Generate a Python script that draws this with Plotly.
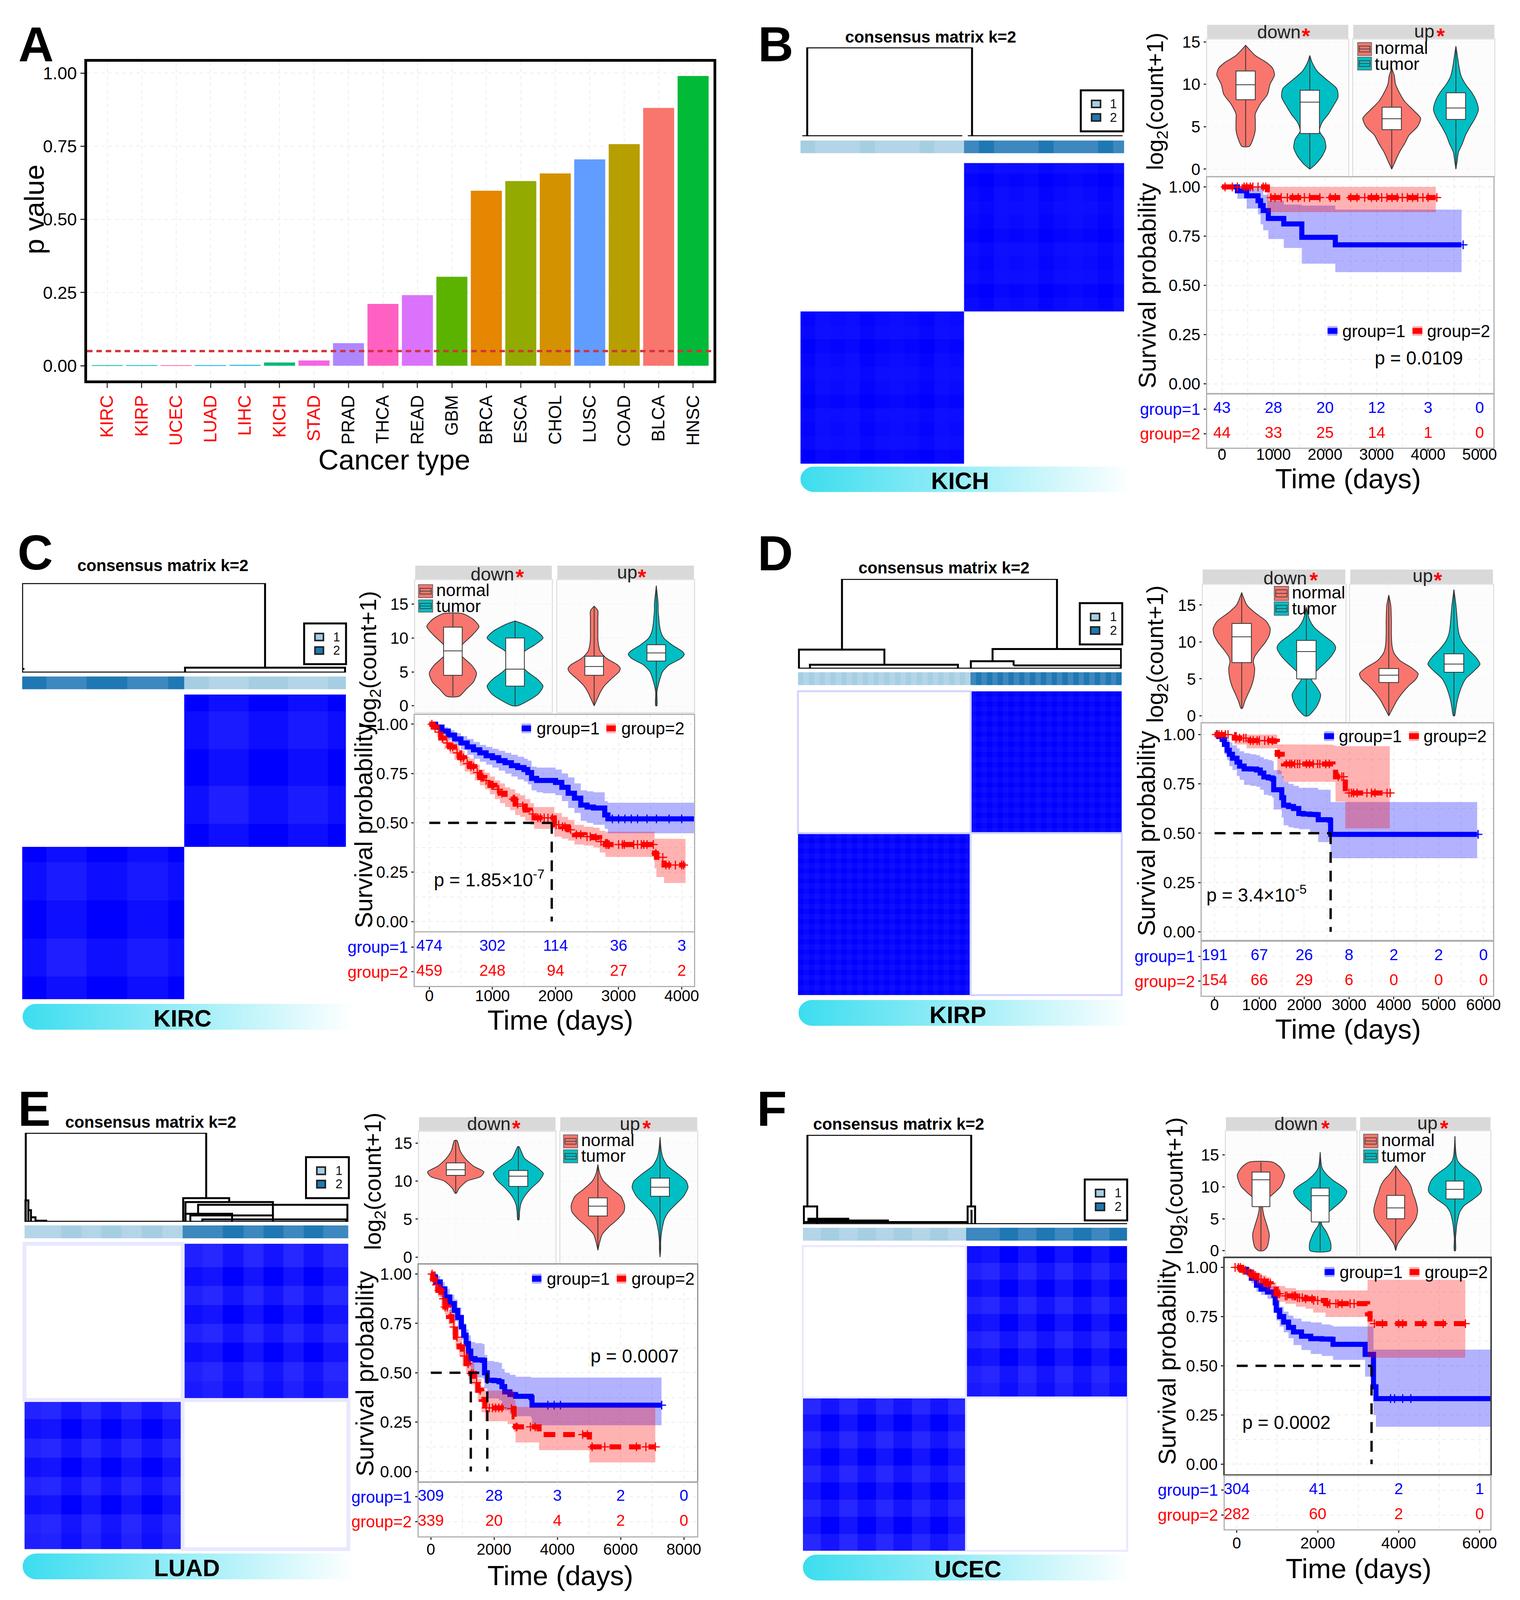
import base64
import plotly.graph_objects as go

W, H = 3892, 4394     # reference size: all geometry below is measured in it
PAGE_H = 4096         # the window really shows this many rows, so the page is fitted to them
FS = .95              # text follows the fitted height
FONT = "Liberation Sans"

# ---------------- panel A values ----------------
cancer_types = ["KIRC","KIRP","UCEC","LUAD","LIHC","KICH","STAD","PRAD","THCA","READ","GBM","BRCA","ESCA","CHOL","LUSC","COAD","BLCA","HNSC"]
p_values = [.0005,.0005,.0006,.002,.003,.011,.018,.077,.211,.241,.304,.598,.631,.657,.705,.757,.881,.990]
bar_colors = ["#00C19F","#00BFC4","#FF67A4","#00B0F6","#00B9E3","#00BA7A","#F564E3","#AE87FF","#FF61C3","#DB72FB","#5BB300","#E58700","#93AA00","#D39200","#619CFF","#B79F00","#F8766D","#00BA38"]
p_cutoff = 0.05

# ---------------- survival curves: days, survival, CI ----------------
kich_g1_t=[0,300,480,700,750,800,900,1200,1550,2200,4650]
kich_g1_s=[1,.98,.955,.93,.905,.88,.84,.812,.744,.706,.706]
kich_g1_hi=[1,1,1,1,1,.96,.93,.91,.905,.885,.885]
kich_g1_lo=[1,.94,.89,.86,.81,.78,.735,.69,.61,.567,.567]
kich_g2_t=[0,880,4150]
kich_g2_s=[1,.946,.946]
kich_g2_hi=[1,1,1]
kich_g2_lo=[1,.872,.872]
kich_g1_cens=[4680]
kich_g2_cens=[60,200,300,430,480,550,600,700,800,850,950,1030,1150,1270,1370,1480,1600,1700,1900,2100,2200,2500,2620,2770,2900,3000,3100,3200,3300,3400,3500,3600,3700,3800,3900,4000,4170]
kich_g1_risk=[43,28,20,12,3,0]
kich_g2_risk=[44,33,25,14,1,0]
kich_risk_t=[0,1000,2000,3000,4000,5000]
kich_median=[]

kirc_g1_t=[0,100,200,300,400,500,600,700,800,900,1000,1100,1200,1300,1400,1500,1560,1620,1700,1800,1900,2000,2100,2200,2300,2400,2500,2600,2700,2780,2830,4200]
kirc_g1_s=[1,.985,.965,.945,.925,.905,.885,.87,.855,.84,.83,.815,.805,.79,.78,.77,.755,.725,.715,.715,.715,.705,.68,.65,.625,.59,.58,.575,.575,.54,.52,.52]
kirc_g1_hi=[1,1,.985,.97,.955,.94,.925,.91,.895,.885,.875,.865,.855,.845,.835,.825,.815,.785,.78,.78,.78,.77,.75,.73,.70,.665,.66,.655,.655,.61,.602,.602]
kirc_g1_lo=[1,.97,.945,.92,.895,.87,.845,.825,.81,.795,.78,.765,.75,.735,.72,.71,.695,.665,.655,.65,.65,.64,.61,.575,.55,.51,.5,.49,.49,.47,.447,.447]
kirc_g2_t=[0,60,120,180,240,320,400,480,560,640,720,800,880,960,1040,1120,1200,1280,1360,1440,1520,1600,1660,1720,1900,1980,2100,2200,2300,2450,2600,2700,2790,3530,3570,3600,3720,4060]
kirc_g2_s=[1,.985,.96,.93,.905,.885,.855,.83,.8,.785,.755,.73,.715,.69,.67,.65,.63,.62,.595,.585,.565,.545,.525,.525,.525,.49,.48,.465,.44,.43,.425,.405,.39,.39,.345,.325,.286,.286]
kirc_g2_hi=[1,1,.985,.955,.935,.915,.89,.865,.835,.825,.795,.77,.755,.735,.715,.7,.68,.67,.65,.64,.62,.6,.58,.58,.58,.55,.53,.515,.49,.48,.475,.46,.455,.455,.42,.42,.419,.419]
kirc_g2_lo=[1,.97,.935,.905,.875,.85,.82,.79,.76,.745,.715,.69,.67,.645,.62,.6,.58,.565,.54,.53,.51,.49,.47,.47,.47,.43,.42,.41,.39,.385,.375,.35,.327,.327,.27,.225,.195,.195]
kirc_g1_cens=[2900,3000,3100,3200,3300,3450,3600,3800,4000]
kirc_g2_cens=[40,90,150,210,280,330,370,440,500,540,600,660,700,760,820,850,900,990,1010,1080,1100,1150,1330,1350,1400,1480,1640,1720,1760,1820,1880,1950,2010,2050,2110,2150,2240,2330,2400,2500,2550,2640,2720,2800,2830,2850,3000,3060,3090,3240,3300,3360,3400,3450,3550,3590,3700,3750,3800,3900,4000,4030]
kirc_g1_risk=[474,302,114,36,3]
kirc_g2_risk=[459,248,94,27,2]
kirc_risk_t=[0,1000,2000,3000,4000]
kirc_median=[1940]

kirp_g1_t=[0,100,170,220,280,330,400,500,560,660,800,936,1020,1100,1200,1288,1320,1465,1500,1542,1650,1762,1880,1982,2130,2257,2313,2566,2590,5860]
kirp_g1_s=[1,.99,.975,.95,.92,.9,.88,.86,.84,.826,.825,.82,.805,.785,.78,.775,.72,.72,.68,.642,.635,.625,.6,.597,.595,.594,.568,.565,.494,.494]
kirp_g1_hi=[1,1,1,.99,.975,.96,.945,.93,.915,.905,.9,.895,.885,.875,.87,.865,.82,.815,.79,.76,.75,.74,.73,.73,.73,.73,.72,.72,.658,.658]
kirp_g1_lo=[1,.97,.94,.9,.87,.84,.82,.79,.77,.745,.74,.735,.72,.695,.69,.68,.62,.62,.58,.54,.53,.525,.52,.52,.5,.5,.455,.455,.373,.373]
kirp_g2_t=[0,385,440,716,1320,1400,1510,1540,2643,2700,2896,2918,3910]
kirp_g2_s=[1,1,.982,.969,.966,.9,.887,.851,.848,.786,.777,.704,.704]
kirp_g2_hi=[1,1,1,1,1,.95,.95,.949,.945,.941,.941,.941,.941]
kirp_g2_lo=[1,1,.95,.93,.93,.8,.78,.76,.76,.66,.66,.524,.524]
kirp_g1_cens=[60,5880]
kirp_g2_cens=[40,100,160,240,300,480,560,650,700,800,860,950,1000,1120,1200,1290,1430,1450,1600,1680,1720,1790,1850,1900,2050,2120,2200,2300,2350,2480,2560,2760,2840,2880,3000,3050,3100,3180,3400,3500,3580,3850,3920]
kirp_g1_risk=[191,67,26,8,2,2,0]
kirp_g2_risk=[154,66,29,6,0,0,0]
kirp_risk_t=[0,1000,2000,3000,4000,5000,6000]
kirp_median=[2590]

luad_g1_t=[0,70,149,300,446,600,744,850,967,1040,1116,1190,1265,1400,1637,1700,1786,2000,2158,2250,2336,2500,2679,3170,3200,7292]
luad_g1_s=[1,.985,.96,.925,.884,.85,.816,.78,.732,.69,.648,.61,.572,.565,.563,.5,.462,.46,.454,.43,.403,.39,.381,.374,.336,.336]
luad_g1_hi=[1,1,.99,.96,.925,.895,.87,.83,.79,.75,.72,.69,.656,.65,.645,.59,.56,.555,.55,.52,.5,.49,.48,.476,.476,.476]
luad_g1_lo=[1,.97,.93,.885,.84,.8,.76,.72,.67,.63,.58,.53,.49,.475,.47,.42,.37,.37,.36,.33,.31,.29,.28,.27,.234,.234]
luad_g2_t=[0,60,120,223,330,446,560,670,780,893,1000,1116,1190,1265,1380,1488,1600,1711,2426,2634,2679,3348,3423,4985,5015,7098]
luad_g2_s=[1,.975,.945,.917,.875,.833,.785,.732,.68,.631,.585,.546,.52,.496,.45,.411,.365,.322,.319,.277,.226,.226,.187,.187,.125,.125]
luad_g2_hi=[1,.995,.97,.945,.905,.865,.82,.77,.72,.675,.63,.595,.57,.55,.5,.47,.43,.41,.41,.36,.327,.327,.327,.327,.327,.327]
luad_g2_lo=[1,.95,.92,.885,.84,.795,.745,.69,.635,.585,.535,.495,.465,.44,.4,.355,.3,.255,.24,.2,.147,.147,.108,.108,.046,.046]
luad_g1_cens=[3700,3900,4100,7300]
luad_g2_cens=[40,100,180,260,320,400,450,520,620,730,830,950,1060,1180,1280,1340,1450,1560,1750,1850,1950,2050,2150,2250,2550,2700,2720,3150,3300,4800,4950,5100,5500,6500,6800,7100]
luad_g1_risk=[309,28,3,2,0]
luad_g2_risk=[339,20,4,2,0]
luad_risk_t=[0,2000,4000,6000,8000]
luad_median=[1265,1786]

ucec_g1_t=[0,120,244,360,488,600,760,915,950,976,1060,1159,1280,1402,1600,1829,2100,2317,2378,3146,3171,3354,3378,3439,6268]
ucec_g1_s=[1,.99,.976,.945,.909,.89,.875,.858,.82,.782,.75,.722,.695,.672,.65,.638,.636,.635,.609,.609,.558,.558,.393,.333,.333]
ucec_g1_hi=[1,1,.995,.97,.94,.92,.905,.895,.86,.83,.8,.775,.755,.74,.725,.72,.71,.705,.7,.7,.7,.7,.582,.582,.582]
ucec_g1_lo=[1,.98,.955,.92,.875,.86,.84,.82,.77,.73,.7,.67,.64,.605,.58,.56,.55,.55,.53,.53,.445,.445,.25,.19,.19]
ucec_g2_t=[0,120,240,366,500,620,732,850,976,1200,1463,1700,1890,2195,2988,3232,3293,5646]
ucec_g2_s=[1,.985,.975,.959,.94,.93,.917,.89,.866,.855,.846,.84,.832,.816,.816,.765,.714,.714]
ucec_g2_hi=[1,1,.995,.98,.97,.96,.95,.925,.905,.895,.885,.885,.885,.883,.883,.937,.937,.937]
ucec_g2_lo=[1,.97,.955,.93,.91,.895,.88,.85,.825,.815,.8,.79,.77,.748,.748,.541,.541,.541]
ucec_g1_cens=[3800,3900,4100,4300]
ucec_g2_cens=[-40,40,90,160,220,300,380,450,520,600,680,760,830,1020,1060,1200,1240,1370,1420,1450,1500,1550,1620,1700,1860,1900,2000,2240,2300,2450,2500,2600,2800,2900,3400,3600,4000,4100,4600,5100,5650]
ucec_g1_risk=[304,41,2,1]
ucec_g2_risk=[282,60,2,0]
ucec_risk_t=[0,2000,4000,6000]
ucec_median=[3330]

# ---------------- violin outlines (log2 level, half width) and box stats (q1, median, q3) ----------------
kich_dn_y=[2.7,3.9,4.6,5.8,6.5,7.7,8.8,10,11.1,11.9,12.6,13.4,14.6]
kich_dn_w=[.06,.13,.15,.15,.15,.23,.34,.38,.45,.42,.32,.15,0]
kich_dn_box=[8.18,9.94,11.57]
kich_dt_y=[0,.5,1.5,2.5,3.5,4.5,5.5,6.5,7.5,8.5,9.5,10.5,11.5,12.5,13.4]
kich_dt_w=[0,.08,.19,.25,.23,.15,.19,.29,.37,.44,.42,.27,.12,.04,0]
kich_dt_box=[4.2,7.9,9.3]
kich_un_y=[0,1,2,3,4,5,6,7,8,9,10,11,11.9]
kich_un_w=[0,.06,.12,.2,.27,.4,.45,.33,.2,.12,.06,.04,0]
kich_un_box=[4.65,5.94,7.3]
kich_ut_y=[0,1,2,3,4,5,6,7,8,9,10,11,12,13,14.5]
kich_ut_w=[0,.02,.04,.1,.15,.22,.3,.35,.32,.25,.15,.08,.05,.03,0]
kich_ut_box=[5.86,7.2,9.0]

kirc_dn_y=[1.4,2.5,3.5,4.8,6,7,8,9,10.5,11.7,12.8,13.6]
kirc_dn_w=[.1,.22,.33,.38,.3,.18,.08,.15,.32,.42,.32,.15]
kirc_dn_box=[4.5,8.1,11.6]
kirc_dt_y=[0,.8,1.8,2.9,4,5,6,7,8,9,10,11,12,12.5]
kirc_dt_w=[.04,.22,.38,.45,.35,.2,.1,.08,.15,.32,.45,.35,.15,0]
kirc_dt_box=[2.9,5.4,10]
kirc_un_y=[0,1,2,3,4,5,5.5,6,7,8,9,10,11,12,13,14,14.7]
kirc_un_w=[0,.05,.1,.17,.28,.4,.42,.38,.2,.1,.07,.06,.06,.06,.06,.06,0]
kirc_un_box=[4.5,5.8,7.3]
kirc_ut_y=[0,2,3,4,5,6,7,7.6,8,9,10,11,12,13,14,15,16,17.7]
kirc_ut_w=[.01,.01,.03,.06,.1,.2,.4,.45,.42,.25,.12,.07,.05,.04,.03,.03,.02,0]
kirc_ut_box=[6.6,7.8,9]

kirp_dn_y=[1,2,3,4,5.3,6.5,7.3,8,9,10,11,11.85,12.8,14,15,16.7]
kirp_dn_w=[.01,.05,.1,.15,.19,.2,.18,.2,.28,.37,.43,.44,.38,.2,.08,0]
kirp_dn_box=[7.2,10.7,12.5]
kirp_dt_y=[0,1,2,2.9,4,4.9,6,7,8,9,9.4,10,11,12,13,14.7]
kirp_dt_w=[.03,.14,.2,.22,.15,.08,.15,.27,.38,.45,.45,.4,.25,.12,.05,0]
kirp_dt_box=[5,8.7,10.2]
kirp_un_y=[0,1,2,3,4,5,5.7,6.5,7.5,8.5,9.5,11,13,15,16.35]
kirp_un_w=[0,.06,.12,.2,.3,.42,.45,.35,.17,.08,.05,.04,.04,.03,0]
kirp_un_box=[4.5,5.5,6.4]
kirp_ut_y=[0,1,2,3,4,5,6,7,8,9,10,11,12,13,15,17.1]
kirp_ut_w=[.01,.03,.05,.08,.12,.18,.3,.4,.33,.22,.13,.08,.06,.05,.03,0]
kirp_ut_box=[5.9,7,8.4]

luad_dn_y=[8.4,9,10,10.6,11.2,12,13,14,15.35]
luad_dn_w=[.01,.05,.18,.4,.45,.28,.15,.07,.02]
luad_dn_box=[10.75,11.5,12.4]
luad_dt_y=[4.9,6,7,8,9,10,10.6,11,11.6,12,13,14.55]
luad_dt_w=[.01,.02,.04,.1,.2,.33,.38,.4,.33,.27,.1,.01]
luad_dt_box=[9.3,10.65,11.4]
luad_un_y=[.9,2,3,4,5,6,6.8,8,9,10,11,12.2]
luad_un_w=[0,.03,.07,.18,.32,.42,.43,.37,.22,.09,.03,0]
luad_un_box=[5.4,6.7,7.8]
luad_ut_y=[0,1,2,3,4,5,6,7,8,9.2,10,11,12,13,14,15.8]
luad_ut_w=[0,.01,.01,.02,.04,.07,.14,.26,.38,.45,.42,.28,.12,.05,.02,0]
luad_ut_box=[8,9.2,10.4]

ucec_dn_y=[0,.5,1.5,2.6,4,5.5,6.8,8,9,10,11,11.8,13,13.85]
ucec_dn_w=[.04,.1,.13,.14,.1,.05,.03,.1,.22,.33,.38,.4,.33,.2]
ucec_dn_box=[6.9,11.1,12.3]
ucec_dt_y=[0,1.1,2,3,4,4.5,5.5,6.5,7.5,8.5,9.3,10,11,12,13,15.4]
ucec_dt_w=[.17,.18,.15,.1,.03,.02,.08,.2,.33,.42,.45,.38,.22,.1,.03,0]
ucec_dt_box=[4.5,8.6,9.8]
ucec_un_y=[0,1,2,3,4,5,6.3,8,9,10,11,12,13.3]
ucec_un_w=[0,.03,.1,.18,.27,.34,.37,.33,.29,.26,.2,.1,0]
ucec_un_box=[5,6.7,8.65]
ucec_ut_y=[0,2,3,4,5,6,7,8,9,9.6,11,12,13,14,15,17.9]
ucec_ut_w=[.01,.01,.02,.03,.05,.08,.15,.3,.43,.45,.4,.3,.15,.05,.02,0]
ucec_ut_box=[8.1,9.6,10.9]

# ---------------- consensus matrices: tile sizes (samples) and tile intensity ----------------
kich_left_n=[4]*11
kich_left_v=[1,.97,.98,.97,1,.98,.97,.98,1,.97,.98]
kich_right_n=[4]*10+[3]
kich_right_v=[.98,1,.97,.98,.97,1,.98,.97,.98,1,.97]
kirc_left_n=[70,116,118,118,46]
kirc_left_v=[1,.94,1,.95,1]
kirc_right_n=[71,57,59,113,58,58,52]
kirc_right_v=[1,.94,.94,1,.95,.95,1]
kirp_left_n=[6]*32
kirp_left_v=[1,.97]*16
kirp_right_n=[6]*28
kirp_right_v=[.97,1]*14
luad_left_n=[35,43,43,42,43,43,44,43]
luad_left_v=[.94,.92,1,.92,1,.92,1,.92]
luad_right_n=[42,43,44,43,42,43,42,53]
luad_right_v=[.95,.92,1,.92,1,.92,1,.92]
ucec_left_n=[36,37,37,37,36,37,37,36,36]
ucec_left_v=[.92,1,.92,1,.92,1,.92,1,.92]
ucec_right_n=[32,36,37,37,37,37,37,36,36]
ucec_right_v=[.95,.92,1,.92,1,.92,1,.92,1]

# ---------------- dendrograms: position along samples (0-1), merge height (0-1) ----------------
kich_dendro_x=[.021,.021,.53,.53,None,.006,.50,None,.517,.995]
kich_dendro_h=[0,1,1,0,None,0,0,None,0,0]
kirc_dendro_x=[0,0,.75,.75,None,.503,.503,.997,.997,None,0,.997,None,0,.007]
kirc_dendro_h=[0,1,1,.054,None,0,.054,.054,0,None,0,0,None,.04,.04]
kirp_dendro_x=[.136,.136,.80,.80,None,.003,.003,.267,.267,None,.037,.037,.494,.494,None,.601,.601,.998,.998,None,.534,.534,.666,.666,None,.666,.997,.997,None,.003,.998]
kirp_dendro_h=[.212,1,1,.219,None,0,.212,.212,.043,None,0,.043,.043,0,None,.083,.219,.219,0,None,0,.083,.083,.036,None,.036,.036,0,None,0,0]
luad_dendro_x=[.004,.004,.561,.561,None,.49,.49,.632,.632,None,.497,.497,.767,.767,None,.536,.536,.997,.997,None,.497,.497,.641,.641,None,.512,.512,.767,.767,None,.549,.549,.993,.993,None,0,0,.012,.012,None,.01,.02,.02,None,.02,.034,.034,None,.034,.07,None,0,1]
luad_dendro_h=[0,1,1,.266,None,0,.266,.266,.221,None,0,.221,.221,.071,None,.09,.191,.191,0,None,0,.09,.09,0,None,0,.071,.071,0,None,0,.026,.026,0,None,0,.24,.24,0,None,.13,.13,0,None,.05,.05,0,None,.012,.012,None,0,0]
ucec_dendro_x=[.014,.014,.519,.519,None,.003,.003,.044,.044,None,.014,.143,None,.014,.265,None,.0015,.508,None,.508,.508,.531,.531,None,.52,.52,None,0,1]
ucec_dendro_h=[.198,1,1,.198,None,0,.198,.198,0,None,.06,.06,None,.04,.04,None,.022,.022,None,0,.198,.198,0,None,0,.16,None,0,0]

# ---------------- layout geometry, measured in each panel's own frame ----------------
TX = lambda x0, sx, y0, sy: (x0, sx, y0, sy)
PANELS = [
 dict(key="kich", name="KICH", letter="B", T=TX(1900,1.2704,0,.8929), lpos=(76,115), title=(390,92),
      dendro=(126,782,400,125), leg=(694,780,258,385,725,760,300,342), bar=(126,782,413,453), heat=(126,782,483,1414), left_dark=False, edge=0, edgec="#DDDDFF",
      pill=(126,800,1423,1502), pilltext=(450,1467),
      vy=(502,26.27), vbody=(101,522), vstrip=(55,101), down=(950,1236,1028,1158), up=(1246,1532,1324,1454),
      dntext=(1095,78,1150,82), uptext=(1390,75,1423,82),
      keybox=(1255,1283,110,150,155,195,1288,127,176),
      km=(950,1530,527,1195), kmx=(980,.1044), kmy=(557,1167), risk=(1200,1365,1245,1322), riskx=[0,1000,2000,3000,4000,5000], tickup=26,
      frame=("#b0b0b0",3), time=(1235,1460), surv=(828,862), logt=(848,292),
      ptext="p = 0.0109", ppos=(1288,1087), kleg=(1204,1222,1376,1394,1003)),
 dict(key="kirc", name="KIRC", letter="C", T=TX(0,1.2117,1450,.8929), lpos=(75,65), title=(346,105),
      dendro=(47,735,437,160), leg=(646,735,285,411,678,715,327,369), bar=(47,735,449,489), heat=(47,735,505,1449), left_dark=True, edge=0, edgec="#DDDDFF",
      pill=(48,750,1463,1543), pilltext=(388,1508),
      vy=(540,21.0), vbody=(151,560), vstrip=(106,151), down=(882,1172,962,1094), up=(1184,1474,1262,1394),
      dntext=(1046,133,1104,133), uptext=(1332,127,1364,133),
      keybox=(889,919,165,205,212,250,925,181,231),
      km=(881,1474,568,1238), kmx=(912,.134), kmy=(597,1208), risk=(1242,1408,1287,1364), riskx=[0,1000,2000,3000,4000], tickup=18,
      frame=("#b0b0b0",3), time=(1190,1513), surv=(772,910), logt=(785,397),
      ptext="p = 1.85×10<sup>-7</sup>", ppos=(920,1075), kleg=(1118,1138,1298,1318,610)),
 dict(key="kirp", name="KIRP", letter="D", T=TX(1900,1.2704,1450,.8929), lpos=(75,68), title=(417,112),
      dendro=(121,777,425,147), leg=(692,778,222,350,723,760,265,307), bar=(121,777,436,476), heat=(121,777,495,1436), left_dark=False, edge=5, edgec="#D4D4FF",
      pill=(122,800,1451,1531), pilltext=(445,1497),
      vy=(571,22.87), vbody=(165,590), vstrip=(118,165), down=(941,1230,1020,1151), up=(1240,1529,1318,1450),
      dntext=(1108,145,1166,143), uptext=(1387,138,1418,143),
      keybox=(1086,1115,170,214,218,260,1120,189,238),
      km=(939,1529,595,1265), kmx=(965,.0908), kmy=(629,1240), risk=(1271,1438,1316,1393), riskx=[0,1000,2000,3000,4000,5000,6000], tickup=20,
      frame=("#b0b0b0",3), time=(1235,1541), surv=(827,935), logt=(848,380),
      ptext="p = 3.4×10<sup>-5</sup>", ppos=(947,1122), kleg=(1197,1215,1369,1387,634)),
 dict(key="luad", name="LUAD", letter="E", T=TX(0,1.2117,2950,.9209), lpos=(73,105), title=(320,145),
      dendro=(52,740,444,177), leg=(650,741,250,373,682,720,291,331), bar=(52,740,455,494), heat=(52,740,510,1427), left_dark=False, edge=10, edgec="#E8E8FF",
      pill=(48,755,1440,1518), pilltext=(397,1484),
      vy=(550,22.8), vbody=(174,570), vstrip=(130,174), down=(890,1180,968,1101), up=(1190,1481,1270,1402),
      dntext=(1038,150,1097,155), uptext=(1338,150,1374,155),
      keybox=(1197,1227,183,222,228,267,1233,199,246),
      km=(889,1481,572,1224), kmx=(915,.0672), kmy=(601,1194), risk=(1227,1388,1270,1345), riskx=[0,2000,4000,6000,8000], tickup=10,
      frame=("#909090",3), time=(1190,1506), surv=(775,900), logt=(795,322),
      ptext="p = 0.0007", ppos=(1253,847), kleg=(1140,1160,1320,1340,615)),
 dict(key="ucec", name="UCEC", letter="F", T=TX(1900,1.2704,2950,.9209), lpos=(68,105), title=(325,150),
      dendro=(131,788,451,183), leg=(702,788,317,440,733,770,358,399), bar=(131,788,462,501), heat=(131,788,517,1432), left_dark=False, edge=5, edgec="#E8E8FF",
      pill=(131,800,1443,1521), pilltext=(465,1487),
      vy=(531,19.2), vbody=(172,547), vstrip=(130,172), down=(988,1252,1059,1179), up=(1260,1524,1332,1452),
      dntext=(1130,150,1190,155), uptext=(1396,148,1430,155),
      keybox=(1267,1296,181,222,228,267,1301,199,246),
      km=(986,1524,553,1202), kmx=(1010,.082), kmy=(581,1172), risk=(1208,1368,1250,1325), riskx=[0,2000,4000,6000], tickup=8,
      frame=("#404040",4), time=(1257,1485), surv=(868,865), logt=(888,337),
      ptext="p = 0.0002", ppos=(1020,1047), kleg=(1198,1217,1370,1389,595)),
]
NORMAL, TUMOR = "#F8766D", "#00BFC4"
BLUE, RED = "#0000FF", "#FF0000"
GRID = "#ececec"
TICK = 44

traces, shapes, annos, images, axes_layout = [], [], [], [], {}
ax_i = [1]

def new_axes(box, xr, yr, xopt=None, yopt=None):
    ax_i[0] += 1
    i = ax_i[0]
    L, R, T, B = box
    hidden = dict(visible=False)
    axes_layout[f"xaxis{i}"] = dict(domain=[L/W, R/W], range=xr, anchor=f"y{i}", **(xopt or hidden))
    axes_layout[f"yaxis{i}"] = dict(domain=[1-B/H, 1-T/H], range=yr, anchor=f"x{i}", **(yopt or hidden))
    return f"x{i}", f"y{i}"

def rect(L, R, T, B, fill=None, line=None, lw=0, layer="below"):
    shapes.append(dict(type="rect", xref="paper", yref="paper", x0=L/W, x1=R/W, y0=1-B/H, y1=1-T/H,
                       fillcolor=fill or "rgba(0,0,0,0)", line=dict(color=line or "rgba(0,0,0,0)", width=lw), layer=layer))

def hline(L, R, y, color, lw, layer="above"):
    shapes.append(dict(type="line", xref="paper", yref="paper", x0=L/W, x1=R/W, y0=1-y/H, y1=1-y/H,
                       line=dict(color=color, width=lw), layer=layer))

def text(x, y, s, size, anchor="center", angle=0, color="#000000", bold=False):
    annos.append(dict(xref="paper", yref="paper", x=x/W, y=1-y/H, text=f"<b>{s}</b>" if bold else s, showarrow=False,
                      xanchor=anchor, yanchor="middle", textangle=angle, font=dict(family=FONT, size=size*FS, color=color)))

def frame(p):
    x0, sx, y0, sy = p["T"]
    return (lambda v: x0+v*sx), (lambda v: y0+v*sy)

def axis_style(**k):
    d = dict(showline=True, mirror=True, linecolor="#b0b0b0", linewidth=3, zeroline=False, showgrid=True,
             gridcolor=GRID, griddash="dash", gridwidth=2, tickfont=dict(family=FONT, size=TICK*FS, color="#000000"),
             ticks="outside", ticklen=6, tickwidth=3, tickcolor="#333333")
    d.update(k)
    return d

# ---------------- Panel A ----------------
ax = new_axes((224,1836,151,1033), [-.587,17.587], [-.051,1.039],
    axis_style(tickmode="array", tickvals=list(range(18)),
               ticktext=[(f'<span style="color:red">{c}</span>' if v < p_cutoff else c) for c, v in zip(cancer_types, p_values)],
               tickangle=-90, linecolor="#000000", linewidth=7, tickfont=dict(family=FONT, size=48*FS, color="#000000"), tickcolor="#444444", ticklen=12),
    axis_style(tickmode="array", tickvals=[0,.25,.5,.75,1], ticktext=["0.00","0.25","0.50","0.75","1.00"], linecolor="#000000", linewidth=7,
               tickfont=dict(family=FONT, size=47*FS, color="#000000"), ticklen=10))
traces.append(go.Bar(x=list(range(18)), y=p_values, width=.9, marker=dict(color=bar_colors, line=dict(width=0)), xaxis=ax[0], yaxis=ax[1]))
traces.append(go.Scatter(x=[-.587,17.587], y=[p_cutoff,p_cutoff], mode="lines", line=dict(color="#D1343C", width=6, dash="14px,10px"), xaxis=ax[0], yaxis=ax[1]))
text(93, 103, "A", 132, bold=True)
text(88, 560, "p value", 75, angle=-90)
text(1015, 1252, "Cancer type", 76)

# ---------------- helpers for B-F ----------------
def step_at(t, s, x):
    v = s[0]
    for a, b in zip(t, s):
        if a <= x:
            v = b
    return v

def band(t, lo, hi):
    xs, up, dn = [], [], []
    for i in range(len(t)):
        nxt = t[i+1] if i+1 < len(t) else t[i]
        xs += [t[i], nxt]; up += [hi[i], hi[i]]; dn += [lo[i], lo[i]]
    return xs + xs[::-1], up + dn[::-1]

def add_km(t, s, lo, hi, cens, color, rgba, ax, dashed):
    bx, by = band(t, lo, hi)
    traces.append(go.Scatter(x=bx, y=by, mode="lines", line=dict(width=0), fill="toself", fillcolor=rgba, xaxis=ax[0], yaxis=ax[1]))
    traces.append(go.Scatter(x=t, y=s, mode="lines", line=dict(color=color, width=13, shape="hv", dash="30px,20px" if dashed else "solid"), xaxis=ax[0], yaxis=ax[1]))
    traces.append(go.Scatter(x=cens, y=[step_at(t, s, c) for c in cens], mode="markers",
                             marker=dict(symbol="cross-thin", size=16, line=dict(color=color, width=3)), xaxis=ax[0], yaxis=ax[1]))

def add_violin(ax, pos, y, w, box, color):
    xs = [pos - v for v in w] + [pos + v for v in reversed(w)]
    ys = list(y) + list(reversed(y))
    traces.append(go.Scatter(x=xs+xs[:1], y=ys+ys[:1], mode="lines", fill="toself", fillcolor=color,
                             line=dict(color="#333333", width=2, shape="spline", smoothing=.7), xaxis=ax[0], yaxis=ax[1]))
    traces.append(go.Scatter(x=[pos,pos], y=[min(y),max(y)], mode="lines", line=dict(color="#333333", width=2), xaxis=ax[0], yaxis=ax[1]))
    half = .15
    traces.append(go.Scatter(x=[pos-half,pos+half,pos+half,pos-half,pos-half], y=[box[0],box[0],box[2],box[2],box[0]], mode="lines", fill="toself",
                             fillcolor="#FFFFFF", line=dict(color="#333333", width=2), xaxis=ax[0], yaxis=ax[1]))
    traces.append(go.Scatter(x=[pos-half,pos+half], y=[box[1],box[1]], mode="lines", line=dict(color="#333333", width=2), xaxis=ax[0], yaxis=ax[1]))

def pill_svg(w, h):
    r = h/2
    svg = (f'<svg xmlns="http://www.w3.org/2000/svg" width="{w}" height="{h}"><defs><linearGradient id="g">'
           f'<stop offset="0" stop-color="#3BDDEF"/><stop offset="1" stop-color="#FFFFFF"/></linearGradient></defs>'
           f'<path d="M{r},0H{w}V{h}H{r}A{r},{r} 0 0 1 {r},0Z" fill="url(#g)"/></svg>')
    return "data:image/svg+xml;base64," + base64.b64encode(svg.encode()).decode()

G = globals()
for p in PANELS:
    k = p["key"]
    fx, fy = frame(p)
    pick = lambda s: G[f"{k}_{s}"]
    text(fx(p["lpos"][0]), fy(p["lpos"][1]), p["letter"], 132, bold=True)
    text(fx(p["title"][0]), fy(p["title"][1]), "consensus matrix k=2", 44, bold=True)

    # dendrogram
    l, r, base, top = p["dendro"]
    ax = new_axes((fx(l), fx(r), fy(top), fy(base)), [0,1], [0,1])
    traces.append(go.Scatter(x=pick("dendro_x"), y=pick("dendro_h"), mode="lines", cliponaxis=False,
                             line=dict(color="#000000", width=5), xaxis=ax[0], yaxis=ax[1]))

    # consensus matrix and annotation bar
    nl, vl, nr, vr = pick("left_n"), pick("left_v"), pick("right_n"), pick("right_v")
    sizes, vals = nl + nr, vl + vr
    edges = [0]
    for n in sizes:
        edges.append(edges[-1] + n)
    N = edges[-1]; nleft = len(nl)
    z = [[(vals[i]*vals[j] if (i < nleft) == (j < nleft) else 0) for j in range(len(vals))] for i in range(len(vals))]
    l, r, t, b = p["heat"]
    hb = (fx(l), fx(r), fy(t), fy(b))
    ax = new_axes(hb, [0,N], [0,N])
    traces.append(go.Heatmap(x=edges, y=edges, z=z, zmin=0, zmax=1, showscale=False, colorscale=[[0,"#FFFFFF"],[1,"#0000FF"]], xaxis=ax[0], yaxis=ax[1]))
    if p["edge"]:
        sx = hb[0] + (hb[1]-hb[0])*sum(nl)/N
        sy = hb[3] - (hb[3]-hb[2])*sum(nl)/N
        rect(hb[0], sx, hb[2], sy, line=p["edgec"], lw=p["edge"], layer="above")
        rect(sx, hb[1], sy, hb[3], line=p["edgec"], lw=p["edge"], layer="above")
    l, r, t, b = p["bar"]
    ax = new_axes((fx(l), fx(r), fy(t), fy(b)), [0,N], [0,1])
    barz = []
    for i, v in enumerate(vals):
        dark = (i < nleft) == p["left_dark"]
        barz.append((.75 if v == 1 else 1) if dark else (.25 if v == 1 else 0))
    traces.append(go.Heatmap(x=edges, y=[0,1], z=[barz], zmin=0, zmax=1, showscale=False,
                             colorscale=[[0,"#B4D5E8"],[.25,"#A6CEE3"],[.5,"#A6CEE3"],[.5,"#1F78B4"],[.75,"#1F78B4"],[1,"#3D88BF"]], xaxis=ax[0], yaxis=ax[1]))

    # cluster legend box
    l, r, t, b, sw, tx, y1, y2 = p["leg"]
    rect(fx(l), fx(r), fy(t), fy(b), fill="#FFFFFF", line="#000000", lw=5, layer="above")
    for yy, c, lab in ((y1, "#A6CEE3", "1"), (y2, "#1F78B4", "2")):
        rect(fx(sw-9), fx(sw+9), fy(yy-11), fy(yy+11), fill=c, line="#222222", lw=4, layer="above")
        text(fx(tx), fy(yy), lab, 34, color="#111111")

    # name pill
    l, r, t, b = p["pill"]
    pw, ph = fx(r)-fx(l), fy(b)-fy(t)
    images.append(dict(source=pill_svg(round(pw), round(ph)), xref="paper", yref="paper", x=fx(l)/W, y=1-fy(t)/H,
                       sizex=pw/W, sizey=ph/H, sizing="stretch", xanchor="left", yanchor="top", layer="below"))
    text(fx(p["pilltext"][0]), fy(p["pilltext"][1]), p["name"], 64, bold=True)

    # violins
    y0z, unit = p["vy"]
    vt, vb = p["vbody"]
    st, sb = p["vstrip"]
    yr = [(y0z-vb)/unit, (y0z-vt)/unit]
    for fac, cfg, first in (("d", p["down"], True), ("u", p["up"], False)):
        L, R, c1, c2 = cfg
        sc = c2-c1
        rect(fx(L), fx(R), fy(st), fy(sb), fill="#D9D9D9")
        rect(fx(L), fx(R), fy(sb), fy(vb), fill="#FCFCFC")
        xopt = axis_style(showticklabels=False, ticks="", tickvals=[1,2], tickmode="array", linecolor="#E2E2E2", gridcolor="#F4F4F4")
        yopt = axis_style(tickmode="array", tickvals=[0,5,10,15], showticklabels=first, ticks="outside" if first else "", linecolor="#E2E2E2",
                          gridcolor="#F4F4F4")
        ax = new_axes((fx(L), fx(R), fy(sb), fy(vb)), [1+(L-c1)/sc, 1+(R-c1)/sc], yr, xopt, yopt)
        add_violin(ax, 1, pick(f"{fac}n_y"), pick(f"{fac}n_w"), pick(f"{fac}n_box"), NORMAL)
        add_violin(ax, 2, pick(f"{fac}t_y"), pick(f"{fac}t_w"), pick(f"{fac}t_box"), TUMOR)
    a, b_, c, d = p["dntext"]
    text(fx(a), fy(b_), "down", 49, color="#222222")
    text(fx(c), fy(d+8), "*", 58, color=RED, bold=True)
    a, b_, c, d = p["uptext"]
    text(fx(a), fy(b_), "up", 49, color="#222222")
    text(fx(c), fy(d+8), "*", 58, color=RED, bold=True)
    kl, kr, t1, b1, t2, b2, kt, ky1, ky2 = p["keybox"]
    for tt, bb, col, ky, lab in ((t1, b1, NORMAL, ky1, "normal"), (t2, b2, TUMOR, ky2, "tumor")):
        rect(fx(kl), fx(kr), fy(tt), fy(bb), fill=col, line="#666666", lw=2, layer="above")
        rect(fx(kl+3), fx(kr-3), fy(tt+11), fy(bb-11), line="#444444", lw=2, layer="above")
        hline(fx(kl+3), fx(kr-3), fy((tt+bb)/2), "#444444", 2)
        text(fx(kt), fy(ky), lab, 47, anchor="left")

    # survival
    L, R, T, B = p["km"]
    x0z, xs = p["kmx"]
    y1z, y0k = p["kmy"]
    su = y0k-y1z
    xr = [(L-x0z)/xs, (R-x0z)/xs]
    major = p["riskx"]
    step = major[1]-major[0]
    mid = [m+step/2 for m in major]
    col, lw = p["frame"]
    xopt = axis_style(tickmode="array", tickvals=major, showticklabels=False, ticks="", linecolor=col, linewidth=lw,
                      minor=dict(tickvals=mid, showgrid=True, gridcolor=GRID, griddash="dash", gridwidth=2))
    yopt = axis_style(tickmode="array", tickvals=[0,.25,.5,.75,1], ticktext=["0.00","0.25","0.50","0.75","1.00"], linecolor=col, linewidth=lw,
                      minor=dict(tickvals=[.125,.375,.625,.875], showgrid=True, gridcolor=GRID, griddash="dash", gridwidth=2))
    ax = new_axes((fx(L), fx(R), fy(T), fy(B)), xr, [(y0k-B)/su, (y0k-T)/su], xopt, yopt)
    add_km(pick("g1_t"), pick("g1_s"), pick("g1_lo"), pick("g1_hi"), pick("g1_cens"), BLUE, "rgba(0,0,255,.3)", ax, False)
    add_km(pick("g2_t"), pick("g2_s"), pick("g2_lo"), pick("g2_hi"), pick("g2_cens"), RED, "rgba(255,0,0,.3)", ax, True)
    meds = pick("median")
    if meds:
        hx, hy = [0, max(meds)], [.5, .5]
        for m in meds:
            hx += [None, m, m]; hy += [None, .5, 0]
        traces.append(go.Scatter(x=hx, y=hy, mode="lines", line=dict(color="#000000", width=6, dash="28px,20px"), xaxis=ax[0], yaxis=ax[1]))

    # number at risk table
    rt, rb, r1, r2 = p["risk"]
    u = r2-r1
    ryr = [1-(rb-r2)/u, 2+(r1-rt)/u]
    xopt = axis_style(tickmode="array", tickvals=major, linecolor="#b0b0b0", tickcolor="#333333", ticklabelstandoff=-p["tickup"],
                      tickfont=dict(family=FONT, size=40, color="#000000"),
                      minor=dict(tickvals=mid, showgrid=True, gridcolor=GRID, griddash="dash", gridwidth=2))
    yopt = axis_style(tickmode="array", tickvals=[2,1], ticktext=['<span style="color:blue">group=1</span>','<span style="color:red">group=2</span>'], linecolor="#b0b0b0")
    ax = new_axes((fx(L), fx(R), fy(rt), fy(rb)), xr, ryr, xopt, yopt)
    for rows, yy, c in ((pick("g1_risk"), 2, BLUE), (pick("g2_risk"), 1, RED)):
        tt = pick("risk_t")
        traces.append(go.Scatter(x=tt, y=[yy]*len(tt), mode="text", text=[str(v) for v in rows], cliponaxis=False,
                                 textfont=dict(family=FONT, size=40, color=c), xaxis=ax[0], yaxis=ax[1]))

    # axis titles, p value, group legend
    text(fx(p["time"][0]), fy(p["time"][1]), "Time (days)", 75)
    text(fx(p["surv"][0]), fy(p["surv"][1]), "Survival probability", 66, angle=-90)
    text(fx(p["logt"][0]), fy(p["logt"][1]), "log<sub>2</sub>(count+1)", 62, angle=-90)
    text(fx(p["ppos"][0]), fy(p["ppos"][1]), p["ptext"], 50, anchor="left")
    s1, t1x, s2, t2x, ky = p["kleg"]
    for sw, tx, c, soft, lab in ((s1, t1x, BLUE, "rgba(0,0,255,.3)", "group=1"), (s2, t2x, RED, "rgba(255,0,0,.3)", "group=2")):
        rect(fx(sw-10), fx(sw+10), fy(ky-15), fy(ky+15), fill=soft, layer="above")
        rect(fx(sw-10), fx(sw+10), fy(ky-9), fy(ky+9), fill=c, layer="above")
        text(fx(tx), fy(ky), lab, 46, anchor="left")

fig = go.Figure(data=traces)
fig.update_layout(width=W, height=PAGE_H, margin=dict(l=0, r=0, t=0, b=0), paper_bgcolor="#FFFFFF", plot_bgcolor="rgba(0,0,0,0)",
                  showlegend=False, hovermode=False, shapes=shapes, annotations=annos, images=images, **axes_layout)
fig.write_html("out.html", post_script="document.body.style.margin='0';", config=dict(displayModeBar=False))
